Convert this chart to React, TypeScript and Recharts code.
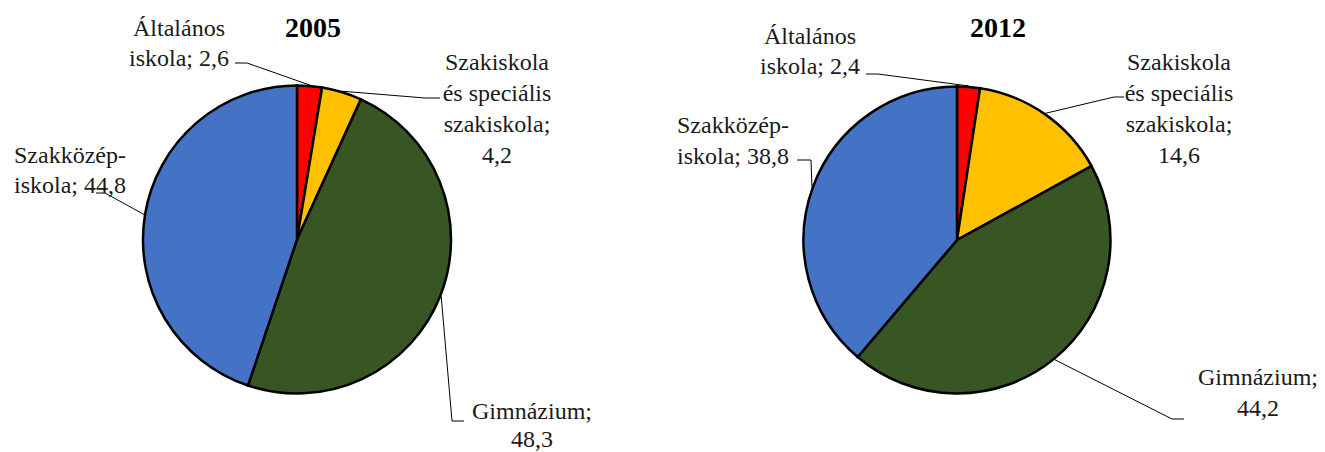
import React from 'react';
import { PieChart, Pie, Cell } from 'recharts';

// Data
const categories = ['Általános iskola', 'Szakiskola és speciális szakiskola', 'Gimnázium', 'Szakközép-iskola'];
const values2005 = [2.6, 4.2, 48.3, 44.8];
const values2012 = [2.4, 14.6, 44.2, 38.8];
const years = ['2005', '2012'];

// How each category label breaks into lines, and whether the value sits on its own line
const labelLines = [['Általános', 'iskola;'], ['Szakiskola', 'és speciális', 'szakiskola;'], ['Gimnázium;'], ['Szakközép-', 'iskola;']];
const valueOwnLine = [false, true, true, false];

const colors = ['#FF0000', '#FFC000', '#375623', '#4472C4'];

// Label layout: text center x, first baseline y, line height, leader elbow and stub end
const layout2005 = [
  { x: 179, y: 36, lh: 30, elbow: [247, 63], end: [235, 63] },
  { x: 497, y: 70, lh: 31, elbow: [425, 98], end: [440, 98] },
  { x: 532, y: 419, lh: 28, elbow: [452, 421], end: [464, 421] },
  { x: 70, y: 163, lh: 30, elbow: [105, 193], end: [96, 193] },
];
const layout2012 = [
  { x: 810, y: 44, lh: 30, elbow: [878, 74], end: [866, 74] },
  { x: 1179, y: 70, lh: 31, elbow: [1114, 97], end: [1124, 97] },
  { x: 1258, y: 385, lh: 31, elbow: [1172, 419], end: [1184, 419] },
  { x: 733, y: 133, lh: 31, elbow: [811, 160], end: [797, 160] },
];

const FONT = '"Liberation Serif", "DejaVu Serif", serif';
const RADIAN = Math.PI / 180;

const fmt = (v: number) => v.toFixed(1).replace('.', ',');

const makeData = (vals: number[]) => categories.map((name, i) => ({ name, value: vals[i] }));

const labelText = (index: number, value: number) => {
  const lines = [...labelLines[index]];
  if (valueOwnLine[index]) lines.push(fmt(value));
  else lines[lines.length - 1] = lines[lines.length - 1] + ' ' + fmt(value);
  return lines;
};

// leader lines drawn from the slice's own geometry
const makeLeader = (layout: typeof layout2005) => (props: any) => {
  const { cx, cy, midAngle, outerRadius, index } = props;
  const r = outerRadius + 1;
  const px = cx + r * Math.cos(-midAngle * RADIAN);
  const py = cy + r * Math.sin(-midAngle * RADIAN);
  const l = layout[index];
  return (
    <polyline
      key={`ldr-${index}`}
      points={`${px},${py} ${l.elbow[0]},${l.elbow[1]} ${l.end[0]},${l.end[1]}`}
      fill="none"
      stroke="#000"
      strokeWidth={1}
    />
  );
};

const LabelTexts = ({ layout, values }: { layout: typeof layout2005; values: number[] }) => (
  <>
    {values.map((v, i) =>
      labelText(i, v).map((t, k) => (
        <text
          key={`${i}-${k}`}
          x={layout[i].x}
          y={layout[i].y + k * layout[i].lh}
          textAnchor="middle"
          fill="#1a1a1a"
          fontFamily={FONT}
          fontSize={24}
        >
          {t}
        </text>
      ))
    )}
  </>
);

export default function App() {
  return (
    <div style={{ position: 'absolute', left: 0, top: 0, width: 1325, height: 452, background: '#fff' }}>
      <PieChart width={1325} height={452} margin={{ top: 0, right: 0, bottom: 0, left: 0 }}>
        <Pie
          data={makeData(values2005)}
          dataKey="value"
          nameKey="name"
          cx={297}
          cy={239.5}
          outerRadius={154}
          startAngle={90}
          endAngle={-270}
          stroke="#000"
          strokeWidth={2.5}
          label={makeLeader(layout2005)}
          labelLine={false}
          isAnimationActive={false}
        >
          {colors.map((c, i) => (
            <Cell key={i} fill={c} />
          ))}
        </Pie>
        <Pie
          data={makeData(values2012)}
          dataKey="value"
          nameKey="name"
          cx={957}
          cy={240}
          outerRadius={153.5}
          startAngle={90}
          endAngle={-270}
          stroke="#000"
          strokeWidth={2.5}
          label={makeLeader(layout2012)}
          labelLine={false}
          isAnimationActive={false}
        >
          {colors.map((c, i) => (
            <Cell key={i} fill={c} />
          ))}
        </Pie>
      </PieChart>
      <svg width={1325} height={452} style={{ position: 'absolute', left: 0, top: 0, pointerEvents: 'none' }}>
        <text x={313} y={37} textAnchor="middle" fontFamily={FONT} fontSize={28} fontWeight="bold" fill="#000">
          {years[0]}
        </text>
        <text x={998} y={37} textAnchor="middle" fontFamily={FONT} fontSize={28} fontWeight="bold" fill="#000">
          {years[1]}
        </text>
        <LabelTexts layout={layout2005} values={values2005} />
        <LabelTexts layout={layout2012} values={values2012} />
      </svg>
    </div>
  );
}
